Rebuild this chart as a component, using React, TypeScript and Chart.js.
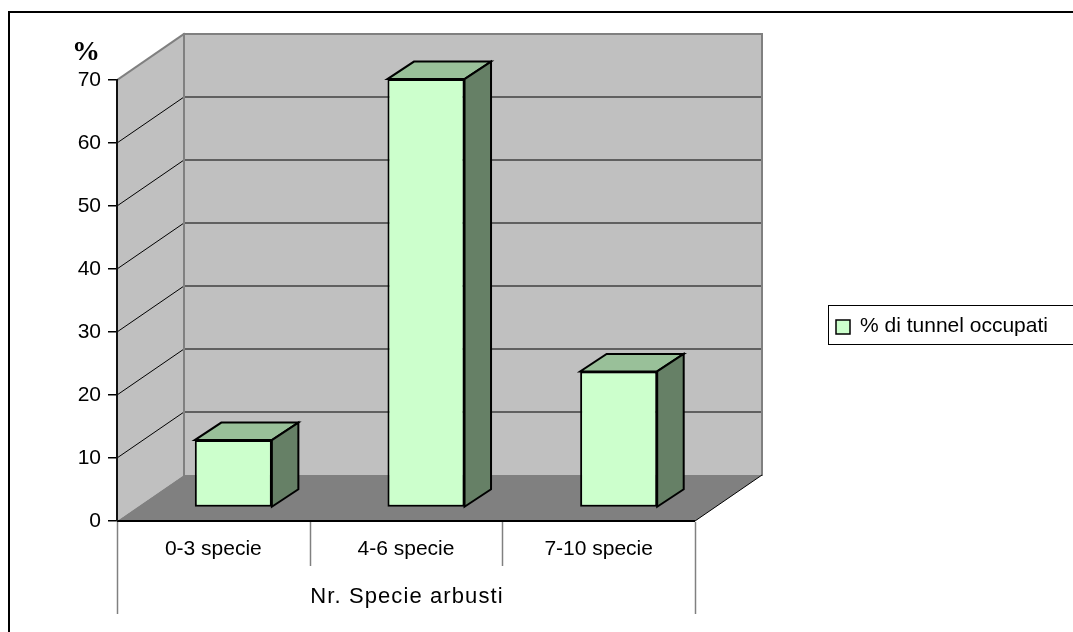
import React, { useEffect, useRef } from 'react';
import { Chart, registerables } from 'chart.js';

Chart.register(...registerables);

// ---- data ----
const categories = ['0-3 specie', '4-6 specie', '7-10 specie'];
const occupiedPct = [10.7, 68.0, 21.6];
const seriesLabel = '% di tunnel occupati';
const xAxisTitle = 'Nr. Specie arbusti';
const yAxisTitle = '%';
const yMin = 0;
const yMax = 70;
const yStep = 10;

// ---- style ----
const FONT = "'Liberation Sans', Arial, sans-serif";
const FONT_SIZE = 21;
const WALL_DX = 67;
const WALL_DY = -46;
const BAR_OFF_X = 20;
const BAR_OFF_Y = -13.5;
const BAR_DX = 26.5;
const BAR_DY = -17.5;
const WALL_COLOR = '#c0c0c0';
const FLOOR_COLOR = '#808080';
const EDGE_COLOR = '#808080';
const BAR_FRONT = '#ccffcc';
const BAR_TOP = 'rgb(153,192,153)';
const BAR_SIDE = 'rgb(102,128,102)';
const CANVAS_W = 1065;
const CANVAS_H = 624;

function poly(ctx: CanvasRenderingContext2D, pts: number[][], fill?: string, stroke?: string, lw = 1) {
  ctx.beginPath();
  ctx.moveTo(pts[0][0], pts[0][1]);
  for (let i = 1; i < pts.length; i++) ctx.lineTo(pts[i][0], pts[i][1]);
  ctx.closePath();
  if (fill) {
    ctx.fillStyle = fill;
    ctx.fill();
  }
  if (stroke) {
    ctx.strokeStyle = stroke;
    ctx.lineWidth = lw;
    ctx.lineJoin = 'miter';
    ctx.stroke();
  }
}

function line(ctx: CanvasRenderingContext2D, x0: number, y0: number, x1: number, y1: number, color: string, lw: number) {
  ctx.beginPath();
  ctx.moveTo(x0, y0);
  ctx.lineTo(x1, y1);
  ctx.strokeStyle = color;
  ctx.lineWidth = lw;
  ctx.stroke();
}

const threeDPlugin = {
  id: 'threeD',
  beforeDraw(chart: any) {
    const { ctx, chartArea: a, scales } = chart;
    const ys = scales.y;
    ctx.save();
    ctx.fillStyle = '#fff';
    ctx.fillRect(0, 0, chart.width, chart.height);
    // outer frame (only top/left visible)
    ctx.strokeStyle = '#000';
    ctx.lineWidth = 2;
    ctx.strokeRect(1, 4, chart.width + 200, chart.height + 200);

    const bx0 = a.left + WALL_DX;
    const bx1 = a.right + WALL_DX;
    const by0 = a.top + WALL_DY;
    const by1 = a.bottom + WALL_DY;

    // back wall
    ctx.fillStyle = WALL_COLOR;
    ctx.fillRect(bx0, by0, bx1 - bx0, by1 - by0);
    // side wall
    poly(ctx, [[a.left, a.top], [bx0, by0], [bx0, by1], [a.left, a.bottom]], WALL_COLOR);
    // floor
    poly(ctx, [[a.left, a.bottom], [a.right, a.bottom], [bx1, by1], [bx0, by1]], FLOOR_COLOR);

    // gridlines
    ys.ticks.forEach((t: any) => {
      const v = t.value;
      if (v <= yMin || v >= yMax) return;
      const py = ys.getPixelForValue(v);
      line(ctx, a.left, py, bx0, py + WALL_DY, '#000', 1);
      line(ctx, bx0, py + WALL_DY, bx1, py + WALL_DY, '#000', 1);
    });

    // wall edges
    ctx.lineCap = 'square';
    line(ctx, a.left, a.top, bx0, by0, EDGE_COLOR, 2);
    line(ctx, bx0, by0, bx1, by0, EDGE_COLOR, 2);
    line(ctx, bx1, by0, bx1, by1, EDGE_COLOR, 2);
    line(ctx, bx0, by0, bx0, by1, EDGE_COLOR, 2);
    ctx.lineCap = 'butt';
    // floor edges
    line(ctx, a.right, a.bottom, bx1, by1, '#000', 1);
    line(ctx, a.left, a.bottom, a.right, a.bottom, '#000', 2);

    // x category dividers and labels
    const xs = scales.x;
    const n = chart.data.labels.length;
    const bounds: number[] = [a.left];
    for (let i = 0; i < n - 1; i++) {
      bounds.push((xs.getPixelForValue(i) + xs.getPixelForValue(i + 1)) / 2);
    }
    bounds.push(a.right);
    bounds.forEach((bx, i) => {
      const outer = i === 0 || i === bounds.length - 1;
      line(ctx, Math.round(bx) + 0.5, a.bottom + 1, Math.round(bx) + 0.5, a.bottom + (outer ? 93 : 45), EDGE_COLOR, 1.5);
    });
    ctx.fillStyle = '#000';
    ctx.font = `${FONT_SIZE}px ${FONT}`;
    ctx.textAlign = 'center';
    ctx.textBaseline = 'middle';
    chart.data.labels.forEach((lab: string, i: number) => {
      ctx.fillText(lab, xs.getPixelForValue(i), a.bottom + 28);
    });
    ctx.font = `22px ${FONT}`;
    try {
      (ctx as any).letterSpacing = '1.1px';
    } catch (e) {}
    ctx.fillText(xAxisTitle, (a.left + a.right) / 2 + 1, a.bottom + 76);
    try {
      (ctx as any).letterSpacing = '0px';
    } catch (e) {}

    // y title
    ctx.font = `bold 28px 'Liberation Serif', 'Times New Roman', serif`;
    ctx.fillText(yAxisTitle, a.left - 31, a.top - 27);
    ctx.restore();
  },
  beforeDatasetsDraw(chart: any) {
    const { ctx } = chart;
    const meta = chart.getDatasetMeta(0);
    ctx.save();
    meta.data.forEach((el: any) => {
      const p = el.getProps(['x', 'y', 'base', 'width'], true);
      const x0 = p.x - p.width / 2 + BAR_OFF_X;
      const x1 = p.x + p.width / 2 + BAR_OFF_X;
      const yT = p.y + BAR_OFF_Y;
      const yB = p.base + BAR_OFF_Y;
      poly(ctx, [[x0, yT], [x1, yT], [x1 + BAR_DX, yT + BAR_DY], [x0 + BAR_DX, yT + BAR_DY]], BAR_TOP, '#000', 2);
      poly(ctx, [[x1, yT], [x1 + BAR_DX, yT + BAR_DY], [x1 + BAR_DX, yB + BAR_DY], [x1, yB]], BAR_SIDE, '#000', 2);
    });
    ctx.restore();
    ctx.save();
    ctx.translate(BAR_OFF_X, BAR_OFF_Y);
  },
  afterDatasetsDraw(chart: any) {
    chart.ctx.restore();
  },
  afterDraw(chart: any) {
    const { ctx } = chart;
    const ds = chart.data.datasets[0];
    ctx.save();
    // legend box
    const lx = 820;
    const ly = 297;
    ctx.fillStyle = '#fff';
    ctx.fillRect(lx, ly, 400, 39);
    ctx.strokeStyle = '#000';
    ctx.lineWidth = 1;
    ctx.strokeRect(lx + 0.5, ly + 0.5, 400, 39);
    ctx.fillStyle = ds.backgroundColor;
    ctx.fillRect(lx + 8, ly + 15, 14, 14);
    ctx.lineWidth = 1.5;
    ctx.strokeRect(lx + 8, ly + 15, 14, 14);
    ctx.fillStyle = '#000';
    ctx.font = `${FONT_SIZE}px ${FONT}`;
    ctx.textAlign = 'left';
    ctx.textBaseline = 'middle';
    ctx.fillText(ds.label, lx + 32, ly + 21);
    ctx.restore();
  },
};

export default function App() {
  const ref = useRef<HTMLCanvasElement | null>(null);
  useEffect(() => {
    document.documentElement.style.overflow = 'hidden';
    document.body.style.overflow = 'hidden';
    const canvas = ref.current!;
    const chart = new Chart(canvas, {
      type: 'bar',
      data: {
        labels: categories,
        datasets: [
          {
            label: seriesLabel,
            data: occupiedPct,
            backgroundColor: BAR_FRONT,
            borderColor: '#000',
            borderWidth: 2,
            borderSkipped: false,
            categoryPercentage: 1,
            barPercentage: 0.4,
            clip: false as any,
          },
        ],
      },
      options: {
        animation: false,
        responsive: true,
        maintainAspectRatio: false,
        devicePixelRatio: 1,
        events: [],
        layout: { padding: { left: 49, right: 378, top: 72, bottom: 111 } },
        plugins: {
          legend: { display: false },
          tooltip: { enabled: false },
          title: { display: false },
        },
        scales: {
          x: { display: false },
          y: {
            position: 'left',
            min: yMin,
            max: yMax,
            ticks: {
              stepSize: yStep,
              padding: 7,
              color: '#000',
              font: { size: FONT_SIZE, family: FONT },
            },
            grid: {
              drawOnChartArea: false,
              drawTicks: true,
              tickLength: 9,
              color: '#000',
              lineWidth: 1.5,
            },
            border: { display: true, color: '#111', width: 2 },
            afterFit: (s: any) => {
              s.width = 60;
            },
          },
        },
      },
      plugins: [threeDPlugin],
    });
    return () => chart.destroy();
  }, []);
  return (
    <div style={{ position: 'absolute', left: 8, top: 8, width: CANVAS_W, height: CANVAS_H }}>
      <canvas ref={ref} />
    </div>
  );
}
